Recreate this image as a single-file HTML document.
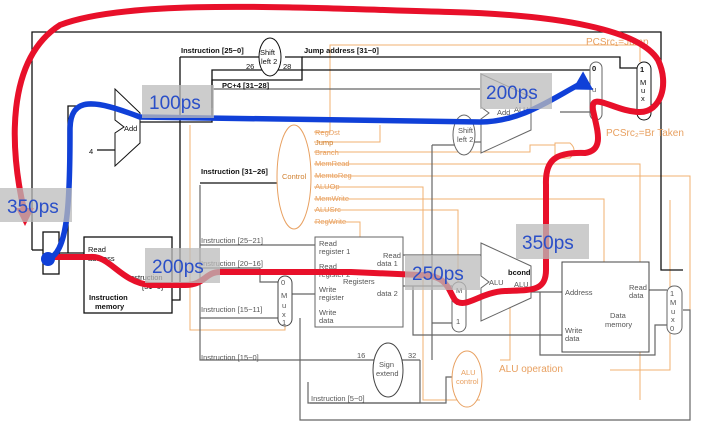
<!DOCTYPE html>
<html><head><meta charset="utf-8"><style>
html,body{margin:0;padding:0;background:#fff;width:702px;height:430px;overflow:hidden}
svg{display:block}
text{font-family:"Liberation Sans",sans-serif}
.k{fill:none;stroke:#111;stroke-width:1.3}
.g{fill:none;stroke:#666;stroke-width:1.2}
.o{fill:none;stroke:#f0b070;stroke-width:1}
.t{font-size:7.5px;fill:#111}
.tg{font-size:7.5px;fill:#555}
.to{font-size:7.5px;fill:#e8a060}
.lbl{font-size:19px;fill:#2a4fc8}
</style></head><body>
<svg width="702" height="430" viewBox="0 0 702 430">
<!-- orange control lines -->
<g class="o">
<path d="M314,132 H330 V45 H640 V62"/>
<path d="M314,142 H380 V125"/>
<path d="M314,152 H530 V145 H570"/>
<path d="M314,164 H640 V400"/>
<path d="M314,176 H690 V330"/>
<path d="M314,187 H423 V400 H480"/>
<path d="M314,199 H604 V262"/>
<path d="M314,210 H458 V282"/>
<path d="M314,222 H360 V237"/>
<path d="M190,125 V330 H285 V326"/>
<path d="M500,360 H510 V270"/>
<path d="M670,200 V370 H610"/>
</g>
<!-- black/gray wiring -->
<g class="k">
<path d="M32,250 V32 H661 V270 H683"/>
<path d="M32,250 H43"/>
<path d="M59,253 H84"/>
<path d="M68,253 V106 H115"/>
<path d="M97,150 H115"/>
<path d="M180,57 H262"/>
<path d="M180,57 V300 H172"/>
<path d="M285,57 H302 V80 H212 V108"/>
<path d="M302,57 H620 V68 H637"/>
<path d="M140,122 H212 V70 H590"/>
<path d="M200,183 H295"/>
</g>
<g class="g">
<path d="M212,89 H480"/>
<path d="M560,112 H590"/>
<path d="M200,185 V360 H420"/>
<path d="M200,245 H315"/>
<path d="M200,268 H260 V282 H278"/>
<path d="M200,318 H278"/>
<path d="M292,294 H315"/>
<path d="M300,318 V420 H690 V310 H683"/>
<path d="M420,360 V403 H308 V382"/>
<path d="M403,255 H481"/>
<path d="M403,286 H452"/>
<path d="M413,286 V335 H562"/>
<path d="M466,300 H481"/>
<path d="M432,145 V360"/>
<path d="M432,323 H452"/>
<path d="M531,292 H562"/>
<path d="M540,292 V355 H655 V325 H667"/>
<path d="M649,290 H667"/>
<path d="M310,403 H446 V377 H467"/>
<path d="M432,145 H458"/>
<path d="M471,142 H481"/>
</g>
<!-- components -->
<rect x="43" y="232" width="16" height="42" class="k" fill="#fff"/>
<rect x="84" y="237" width="88" height="76" class="k" fill="#fff"/>
<polygon points="115,89 140,113 140,143 115,166 115,133 124,127 115,120" fill="#fff" stroke="#111" stroke-width="1"/>
<polygon points="481,74 531,97 531,130 481,153 481,119 489,113 481,107" fill="#fff" stroke="#666" stroke-width="1"/>
<polygon points="481,243 531,266 531,298 481,321 481,288 489,282 481,276" fill="#fff" stroke="#666" stroke-width="1"/>
<rect x="315" y="237" width="88" height="90" fill="#fff" stroke="#666"/>
<rect x="562" y="262" width="87" height="90" fill="#fff" stroke="#444"/>
<rect x="590" y="62" width="12" height="58" rx="6" fill="#fff" stroke="#666"/>
<rect x="637" y="62" width="14" height="58" rx="7" fill="#fff" stroke="#111"/>
<rect x="278" y="276" width="14" height="50" rx="7" fill="#fff" stroke="#444"/>
<rect x="452" y="282" width="14" height="50" rx="7" fill="#fff" stroke="#666"/>
<rect x="667" y="286" width="15" height="48" rx="7" fill="#fff" stroke="#666"/>
<ellipse cx="270" cy="57" rx="11" ry="19" fill="#fff" stroke="#111"/>
<ellipse cx="464" cy="135" rx="11" ry="20" fill="#fff" stroke="#666"/>
<ellipse cx="294" cy="177" rx="17" ry="52" fill="#fff" stroke="#e8a060"/>
<ellipse cx="388" cy="370" rx="15" ry="27" fill="#fff" stroke="#444"/>
<ellipse cx="467" cy="379" rx="15" ry="28" fill="#fff" stroke="#e8a060"/>
<path d="M555,143 H570 Q578,150 570,158 H555 Z" fill="#fff" stroke="#f0b070"/>
<!-- text -->
<text class="t" x="181" y="53" font-weight="bold">Instruction [25−0]</text>
<text class="t" x="260" y="55">Shift</text><text class="t" x="261" y="64">left 2</text>
<text class="t" x="246" y="69">26</text><text class="t" x="283" y="69">28</text>
<text class="t" x="304" y="53" font-weight="bold">Jump address [31−0]</text>
<text class="t" x="222" y="88" font-weight="bold">PC+4 [31−28]</text>
<text class="t" x="124" y="131">Add</text>
<text class="t" x="89" y="154">4</text>
<text class="t" x="201" y="174" font-weight="bold">Instruction [31−26]</text>
<text x="282" y="179" style="font-size:7.5px;fill:#d08030">Control</text>
<g class="to"><text x="315" y="135">RegDst</text><text x="315" y="145" fill="#d08030">Jump</text><text x="315" y="155">Branch</text><text x="315" y="166">MemRead</text><text x="315" y="178">MemtoReg</text><text x="315" y="189">ALUOp</text><text x="315" y="201">MemWrite</text><text x="315" y="212">ALUSrc</text><text x="315" y="224">RegWrite</text></g>
<text class="t" x="88" y="252">Read</text><text class="t" x="88" y="261">address</text>
<text class="t" x="128" y="280">Instruction</text><text class="t" x="142" y="289">[31−0]</text>
<text class="t" x="89" y="300" font-weight="bold">Instruction</text><text class="t" x="95" y="309" font-weight="bold">memory</text>
<text class="tg" x="201" y="243">Instruction [25−21]</text>
<text class="tg" x="201" y="266">Instruction [20−16]</text>
<text class="tg" x="201" y="312">Instruction [15−11]</text>
<text class="tg" x="201" y="360">Instruction [15−0]</text>
<text class="tg" x="311" y="401">Instruction [5−0]</text>
<text class="tg" x="319" y="246">Read</text><text class="tg" x="319" y="254">register 1</text>
<text class="tg" x="319" y="269">Read</text><text class="tg" x="319" y="277">register 2</text>
<text class="tg" x="319" y="292">Write</text><text class="tg" x="319" y="300">register</text>
<text class="tg" x="319" y="315">Write</text><text class="tg" x="319" y="323">data</text>
<text class="tg" x="383" y="258">Read</text><text class="tg" x="377" y="266">data 1</text>
<text class="tg" x="343" y="284">Registers</text>
<text class="tg" x="377" y="296">data 2</text>
<text class="tg" x="281" y="285">0</text><text class="tg" x="281" y="298">M</text><text class="tg" x="282" y="308">u</text><text class="tg" x="282" y="317">x</text><text class="tg" x="282" y="325">1</text>
<text class="tg" x="456" y="293">M</text><text class="tg" x="456" y="305">x</text><text class="tg" x="456" y="324">1</text>
<text class="tg" x="489" y="285">ALU</text><text class="tg" x="514" y="287">ALU</text>
<text x="508" y="275" style="font-size:7.5px;font-weight:bold;fill:#111">bcond</text>
<text class="tg" x="565" y="295">Address</text><text class="tg" x="565" y="333">Write</text><text class="tg" x="565" y="341">data</text>
<text class="tg" x="629" y="290">Read</text><text class="tg" x="629" y="298">data</text>
<text class="tg" x="610" y="318">Data</text><text class="tg" x="605" y="327">memory</text>
<text class="tg" x="670" y="296">1</text><text class="tg" x="670" y="305">M</text><text class="tg" x="671" y="314">u</text><text class="tg" x="671" y="322">x</text><text class="tg" x="670" y="331">0</text>
<text class="tg" x="357" y="358">16</text><text class="tg" x="408" y="358">32</text>
<text class="tg" x="379" y="367">Sign</text><text class="tg" x="376" y="376">extend</text>
<text x="461" y="375" style="font-size:7.5px;fill:#e8a060">ALU</text><text x="456" y="384" style="font-size:7.5px;fill:#e8a060">control</text>
<text x="499" y="372" style="font-size:10px;fill:#e8a060">ALU operation</text>
<text x="586" y="45" style="font-size:10px;fill:#e8a060">PCSrc₁=Jump</text>
<text x="606" y="136" style="font-size:10px;fill:#e8a060">PCSrc₂=Br Taken</text>
<text class="tg" x="458" y="133">Shift</text><text class="tg" x="457" y="142">left 2</text>
<text class="tg" x="497" y="115">Add</text><text class="tg" x="514" y="112">ALU</text>
<text class="t" x="592" y="71" font-weight="bold">0</text><text class="tg" x="592" y="92">u</text>
<text class="t" x="640" y="72" font-weight="bold">1</text><text class="t" x="640" y="85">M</text><text class="t" x="641" y="93">u</text><text class="t" x="641" y="101">x</text>
<!-- red path -->
<path d="M24,210 C10,150 5,60 60,25 C130,-2 300,8 450,12 C560,15 640,30 658,60 C670,85 660,112 640,112 C615,112 590,90 593,110 C597,130 605,150 585,153 C555,152 545,160 546,185 L546,270 C546,292 530,290 505,291 C480,292 465,310 455,300 C448,290 448,275 420,275 L351,272 L220,272 C205,272 205,285 185,285 L150,285 C120,282 110,255 90,257 L50,257" fill="none" stroke="#e8102a" stroke-width="6" stroke-linecap="round"/>
<polygon points="16,208 34,208 25,226" fill="#e8102a"/>
<!-- blue path -->
<path d="M50,258 C68,250 70,200 70,130 C70,95 95,100 140,117 L480,122 C520,122 550,100 580,84" fill="none" stroke="#1040d8" stroke-width="5.5" stroke-linecap="round"/>
<polygon points="574,76 595,76 584,94" fill="#1040d8" transform="rotate(-60 585 84)"/>
<circle cx="48" cy="259" r="7" fill="#1040d8"/>
<!-- labels -->
<g>
<rect x="142" y="85" width="72" height="33" fill="#bbb" opacity="0.75"/><text class="lbl" x="149" y="109">100ps</text>
<rect x="0" y="188" width="72" height="34" fill="#bbb" opacity="0.75"/><text class="lbl" x="7" y="213">350ps</text>
<rect x="480" y="73" width="72" height="36" fill="#bbb" opacity="0.75"/><text class="lbl" x="486" y="99">200ps</text>
<rect x="145" y="248" width="75" height="35" fill="#bbb" opacity="0.75"/><text class="lbl" x="152" y="273">200ps</text>
<rect x="405" y="255" width="75" height="35" fill="#bbb" opacity="0.75"/><text class="lbl" x="412" y="280">250ps</text>
<rect x="516" y="224" width="73" height="35" fill="#bbb" opacity="0.75"/><text class="lbl" x="522" y="249">350ps</text>
</g>
</svg>
</body></html>
